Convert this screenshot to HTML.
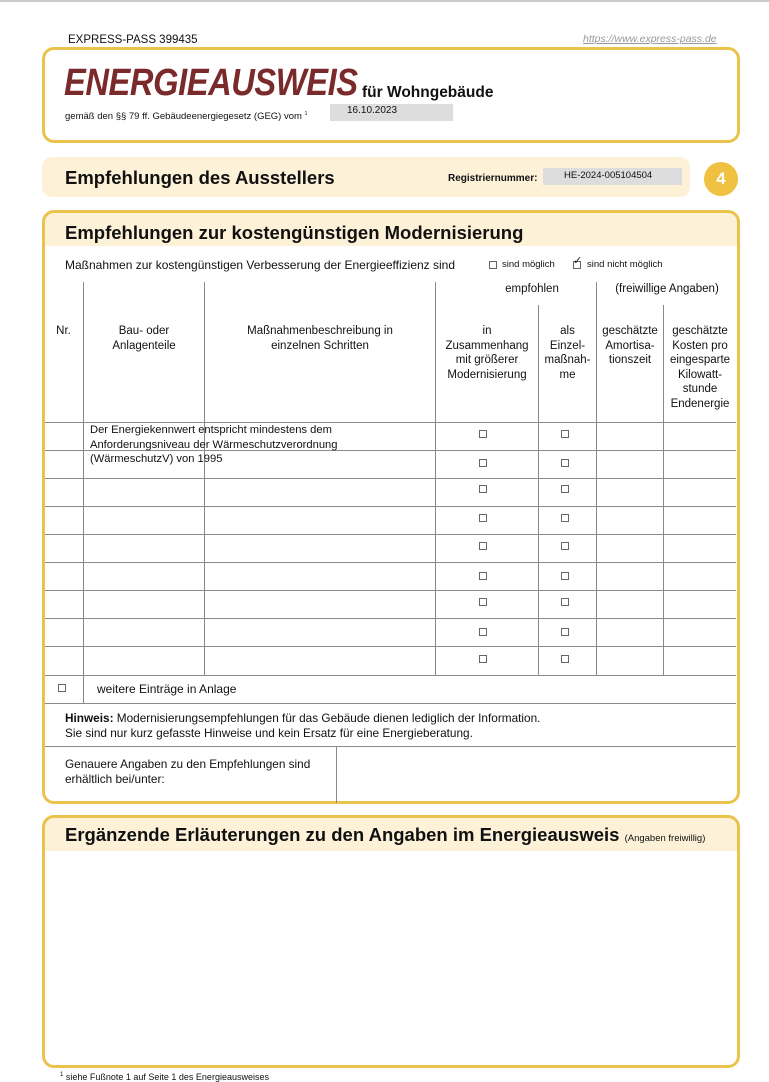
<!DOCTYPE html>
<html><head><meta charset="utf-8"><style>
*{margin:0;padding:0;box-sizing:border-box}
body{width:769px;height:1080px;background:#fff;position:relative;overflow:hidden;font-family:"Liberation Sans",sans-serif;color:#111}
.a{position:absolute;white-space:nowrap}
.box{position:absolute;border:3px solid #e9c34b;border-radius:12px}
.band{position:absolute;background:#fdf1d8}
.h{position:absolute;height:1px;background:#8a8a8a}
.v{position:absolute;width:1px;background:#8a8a8a}
.cb{position:absolute;width:8px;height:8px;border:1px solid #666;background:#fff}
.t{font-size:11.5px;line-height:14.5px;text-align:center;position:absolute}
</style></head><body>
<div class="a" style="left:0;top:0;width:769px;height:2px;background:#ccc"></div>
<div class="a" style="left:68px;top:34px;font-size:11.5px">EXPRESS-PASS 399435</div>
<div class="a" style="left:583px;top:33px;font-size:10.5px;color:#999;font-style:italic;text-decoration:underline">https://www.express-pass.de</div>

<div class="box" style="left:42px;top:47px;width:698px;height:96px"></div>
<div class="a" style="left:64px;top:62px;font-size:38px;font-weight:bold;font-style:italic;color:#7a2a2a;transform:scaleX(0.86);transform-origin:left top;letter-spacing:-0.5px">ENERGIEAUSWEIS</div>
<div class="a" style="left:362px;top:84px;font-size:15.5px;font-weight:bold">für Wohngebäude</div>
<div class="a" style="left:65px;top:111px;font-size:9.5px">gemäß den §§ 79 ff. Gebäudeenergiegesetz (GEG) vom <sup style="font-size:5px">1</sup></div>
<div class="a" style="left:330px;top:104px;width:123px;height:17px;background:#ddd"></div>
<div class="a" style="left:347px;top:105px;font-size:10px">16.10.2023</div>

<div class="band" style="left:42px;top:157px;width:648px;height:40px;border-radius:10px"></div>
<div class="a" style="left:65px;top:167px;font-size:18.5px;font-weight:bold">Empfehlungen des Ausstellers</div>
<div class="a" style="left:448px;top:173px;font-size:10px;font-weight:bold">Registriernummer:</div>
<div class="a" style="left:543px;top:168px;width:139px;height:17px;background:#ddd"></div>
<div class="a" style="left:564px;top:170px;font-size:9.5px">HE-2024-005104504</div>
<div class="a" style="left:704px;top:162px;width:34px;height:34px;border-radius:50%;background:#f0c040;color:#fff;font-weight:bold;font-size:17px;text-align:center;line-height:34px">4</div>

<div class="band" style="left:44px;top:212px;width:694px;height:34px;border-radius:10px 10px 0 0"></div>
<div class="box" style="left:42px;top:210px;width:698px;height:594px"></div>
<div class="a" style="left:65px;top:222px;font-size:18.5px;font-weight:bold">Empfehlungen zur kostengünstigen Modernisierung</div>
<div class="a" style="left:65px;top:258px;font-size:12px">Maßnahmen zur kostengünstigen Verbesserung der Energieeffizienz sind</div>
<div class="cb" style="left:489px;top:261px"></div>
<div class="a" style="left:502px;top:259px;font-size:9.5px">sind möglich</div>
<div class="cb" style="left:573px;top:261px"></div>
<div class="a" style="left:573px;top:254px;font-size:11px">✓</div>
<div class="a" style="left:587px;top:259px;font-size:9.5px">sind nicht möglich</div>

<div class="t" style="left:480px;top:282px;width:104px">empfohlen</div>
<div class="t" style="left:598px;top:282px;width:138px">(freiwillige Angaben)</div>
<div class="t" style="left:44px;top:324px;width:39px">Nr.</div>
<div class="t" style="left:84px;top:324px;width:120px">Bau- oder<br>Anlagenteile</div>
<div class="t" style="left:205px;top:324px;width:230px">Maßnahmenbeschreibung in<br>einzelnen Schritten</div>
<div class="t" style="left:436px;top:324px;width:102px">in<br>Zusammenhang<br>mit größerer<br>Modernisierung</div>
<div class="t" style="left:539px;top:324px;width:57px">als<br>Einzel-<br>maßnah-<br>me</div>
<div class="t" style="left:597px;top:324px;width:66px">geschätzte<br>Amortisa-<br>tionszeit</div>
<div class="t" style="left:664px;top:324px;width:72px">geschätzte<br>Kosten pro<br>eingesparte<br>Kilowatt-<br>stunde<br>Endenergie</div>

<div class="v" style="left:83px;top:282px;height:421px"></div>
<div class="v" style="left:204px;top:282px;height:393px"></div>
<div class="v" style="left:435px;top:282px;height:393px"></div>
<div class="v" style="left:538px;top:305px;height:370px"></div>
<div class="v" style="left:596px;top:282px;height:393px"></div>
<div class="v" style="left:663px;top:305px;height:370px"></div>

<div class="h" style="left:45px;top:422px;width:691px"></div>
<div class="h" style="left:45px;top:450px;width:691px"></div>
<div class="h" style="left:45px;top:478px;width:691px"></div>
<div class="h" style="left:45px;top:506px;width:691px"></div>
<div class="h" style="left:45px;top:534px;width:691px"></div>
<div class="h" style="left:45px;top:562px;width:691px"></div>
<div class="h" style="left:45px;top:590px;width:691px"></div>
<div class="h" style="left:45px;top:618px;width:691px"></div>
<div class="h" style="left:45px;top:646px;width:691px"></div>
<div class="h" style="left:45px;top:675px;width:691px"></div>
<div class="h" style="left:45px;top:703px;width:691px"></div>
<div class="h" style="left:45px;top:746px;width:691px"></div>

<div class="a" style="left:90px;top:423px;font-size:11.2px;line-height:14.5px">Der Energiekennwert entspricht mindestens dem<br>Anforderungsniveau der Wärmeschutzverordnung<br>(WärmeschutzV) von 1995</div>

<div class="cb" style="left:479px;top:430px"></div><div class="cb" style="left:561px;top:430px"></div>
<div class="cb" style="left:479px;top:459px"></div><div class="cb" style="left:561px;top:459px"></div>
<div class="cb" style="left:479px;top:485px"></div><div class="cb" style="left:561px;top:485px"></div>
<div class="cb" style="left:479px;top:514px"></div><div class="cb" style="left:561px;top:514px"></div>
<div class="cb" style="left:479px;top:542px"></div><div class="cb" style="left:561px;top:542px"></div>
<div class="cb" style="left:479px;top:572px"></div><div class="cb" style="left:561px;top:572px"></div>
<div class="cb" style="left:479px;top:598px"></div><div class="cb" style="left:561px;top:598px"></div>
<div class="cb" style="left:479px;top:628px"></div><div class="cb" style="left:561px;top:628px"></div>
<div class="cb" style="left:479px;top:655px"></div><div class="cb" style="left:561px;top:655px"></div>

<div class="cb" style="left:58px;top:684px"></div>
<div class="a" style="left:97px;top:682px;font-size:12px">weitere Einträge in Anlage</div>
<div class="a" style="left:65px;top:711px;font-size:11.8px;line-height:15px"><b>Hinweis:</b> Modernisierungsempfehlungen für das Gebäude dienen lediglich der Information.<br>Sie sind nur kurz gefasste Hinweise und kein Ersatz für eine Energieberatung.</div>
<div class="a" style="left:65px;top:757px;font-size:11.8px;line-height:15px">Genauere Angaben zu den Empfehlungen sind<br>erhältlich bei/unter:</div>
<div class="v" style="left:336px;top:746px;height:57px"></div>

<div class="band" style="left:44px;top:817px;width:694px;height:34px;border-radius:10px 10px 0 0"></div>
<div class="box" style="left:42px;top:815px;width:698px;height:253px"></div>
<div class="a" style="left:65px;top:824px;font-size:18.5px;font-weight:bold">Ergänzende Erläuterungen zu den Angaben im Energieausweis <span style="font-size:9.5px;font-weight:normal">(Angaben freiwillig)</span></div>
<div class="a" style="left:60px;top:1072px;font-size:9px"><sup style="font-size:6px">1</sup> siehe Fußnote 1 auf Seite 1 des Energieausweises</div>
</body></html>
